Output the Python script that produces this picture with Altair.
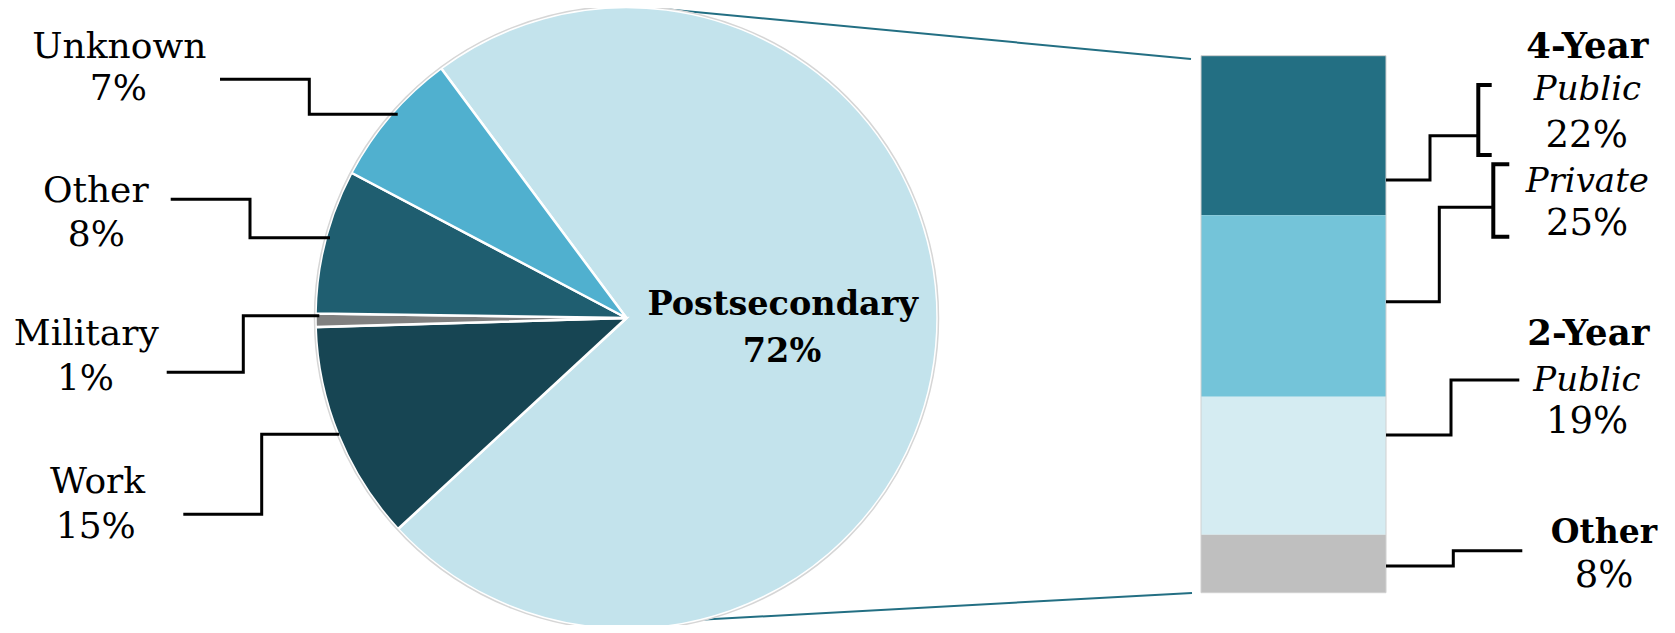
import math
import altair as alt
import pandas as pd

# ---------------- data ----------------
pie_categories = ["Postsecondary", "Work", "Military", "Other", "Unknown"]
pie_shares = [73.3, 11.4, 0.7, 7.5, 7.1]          # slice sizes as drawn
pie_label_names = ["Postsecondary", "Work", "Military", "Other", "Unknown"]
pie_label_pcts = ["72%", "15%", "1%", "8%", "7%"]  # percentages printed

bar_categories = ["4-Year Public", "4-Year Private", "2-Year Public", "Other"]
bar_values = [22, 25, 19, 8]
bar_label_pcts = ["22%", "25%", "19%", "8%"]

# ---------------- styles ----------------
pie_colors = ["#C3E3EC", "#174553", "#808080", "#1F5E70", "#50B0CF"]
bar_colors = ["#236F83", "#74C4D9", "#D5ECF2", "#BFBFBF"]
FONT = "DejaVu Serif"
W, H = 1659, 617
OFF = 8  # page margin

def px(v):
    return v - OFF

# ---------------- layout (pixel positions in page coordinates) ----------------
CX, CY, R = px(626.5), px(318.0), 311
START = 2 * math.pi - math.radians(36.6)
BAR_X1, BAR_X2 = px(1201), px(1386)
BAR_TOP, BAR_BOTTOM = px(55.7), px(592.7)

# ---------------- pie ----------------
pie_df = pd.DataFrame({"cat": pie_categories, "share": pie_shares,
                       "k": list(range(len(pie_categories)))})
pie = alt.Chart(pie_df).mark_arc(radius=R, stroke="white", strokeWidth=2.5).encode(
    theta=alt.Theta("share:Q", stack=True,
                    scale=alt.Scale(range=[START, START + 2 * math.pi])),
    color=alt.Color("cat:N", scale=alt.Scale(domain=pie_categories, range=pie_colors),
                    legend=None),
    order=alt.Order("k:Q"),
    x=alt.value(CX), y=alt.value(CY),
)
rim = alt.Chart(pd.DataFrame({"a": [0]})).mark_arc(
    radius=R + 1, theta=0, theta2=2 * math.pi + 0.01, filled=False,
    stroke="#D6D6D6", strokeWidth=1.5,
).encode(x=alt.value(CX), y=alt.value(CY))

# ---------------- stacked bar ----------------
bar_df = pd.DataFrame({"seg": bar_categories, "value": bar_values,
                       "k": [3, 2, 1, 0]})
bar_scale = alt.Scale(domain=[0, sum(bar_values)], range=[BAR_BOTTOM, BAR_TOP])
bar = alt.Chart(bar_df).transform_stack(
    stack="value", as_=["y0", "y1"], groupby=[], sort=[alt.SortField("k", order="ascending")]
).mark_rect().encode(
    x=alt.value(BAR_X1), x2=alt.value(BAR_X2),
    y=alt.Y("y0:Q", axis=None, scale=bar_scale),
    y2="y1:Q",
    color=alt.Color("seg:N", scale=alt.Scale(domain=bar_categories, range=bar_colors),
                    legend=None),
)
bar_outline = alt.Chart(bar_df).transform_aggregate(
    total="sum(value)"
).transform_calculate(zero="0").mark_rect(
    filled=False, stroke="#D0D0D0", strokeWidth=1
).encode(
    x=alt.value(BAR_X1), x2=alt.value(BAR_X2),
    y=alt.Y("zero:Q", axis=None, scale=bar_scale),
    y2="total:Q",
)

# ---------------- lines ----------------
def paths_df(paths):
    rows = []
    for pid, pts in enumerate(paths):
        for k, (x, y) in enumerate(pts):
            rows.append({"id": pid, "k": k, "x": px(x), "y": px(y)})
    return pd.DataFrame(rows)

def line_layer(paths, color, width):
    return alt.Chart(paths_df(paths)).mark_line(
        color=color, strokeWidth=width, strokeJoin="miter", strokeCap="butt"
    ).encode(
        x=alt.X("x:Q", scale=None, axis=None),
        y=alt.Y("y:Q", scale=None, axis=None),
        detail="id:N", order="k:Q",
    )

connectors = line_layer([
    [(632, 6), (1191, 59)],
    [(632, 623.5), (1192, 593)],
], "#236F83", 2)

leaders = line_layer([
    [(220, 79.3), (309.3, 79.3), (309.3, 114.3), (397.7, 114.3)],
    [(170.7, 199.3), (250, 199.3), (250, 237.7), (330, 237.7)],
    [(166.7, 372.3), (243.3, 372.3), (243.3, 315.7), (319.3, 315.7)],
    [(183.3, 514.3), (261.7, 514.3), (261.7, 434.3), (339.3, 434.3)],
    [(1386, 180), (1430, 180), (1430, 135.7), (1478, 135.7)],
    [(1386, 301.7), (1439.3, 301.7), (1439.3, 207.3), (1493, 207.3)],
    [(1386, 435), (1451, 435), (1451, 380), (1519.3, 380)],
    [(1386, 566), (1453.3, 566), (1453.3, 550.7), (1522.3, 550.7)],
], "black", 3)

brackets = line_layer([
    [(1491.7, 85), (1478.3, 85), (1478.3, 155), (1491.7, 155)],
    [(1509.3, 164.3), (1493.3, 164.3), (1493.3, 236.7), (1509.3, 236.7)],
], "black", 4)

# ---------------- texts ----------------
def text_layer(items, size, weight="normal", style="normal"):
    df = pd.DataFrame([{"text": t, "x": px(x), "y": px(y)} for t, x, y in items])
    return alt.Chart(df).mark_text(
        font=FONT, fontSize=size, fontWeight=weight, fontStyle=style,
        align="center", baseline="alphabetic", color="black",
    ).encode(
        x=alt.X("x:Q", scale=None, axis=None),
        y=alt.Y("y:Q", scale=None, axis=None),
        text="text:N",
    )

left_regular = text_layer([
    (pie_label_names[4], 119.3, 58.3), (pie_label_pcts[4], 118.3, 100),
    (pie_label_names[3], 95.8, 201.7), (pie_label_pcts[3], 96.3, 246),
    (pie_label_names[2], 86.3, 345), (pie_label_pcts[2], 85.5, 390),
    (pie_label_names[1], 97.5, 493.3), (pie_label_pcts[1], 95.8, 538.3),
], 36)

center_bold = text_layer([
    (pie_label_names[0], 782.7, 315), (pie_label_pcts[0], 782, 361.7),
], 33.5, weight="bold")

right_year = text_layer([
    ("4-Year", 1587.3, 58), ("2-Year", 1588.3, 345),
], 35.5, weight="bold")

right_other = text_layer([
    ("Other", 1604, 542.7),
], 33, weight="bold")

right_italic = text_layer([
    ("Public", 1587.5, 100), ("Private", 1587.3, 191.7), ("Public", 1587, 390.7),
], 34, style="italic")

right_regular = text_layer([
    (bar_label_pcts[0], 1586.7, 146.7), (bar_label_pcts[1], 1587, 235),
    (bar_label_pcts[2], 1587, 433.3), (bar_label_pcts[3], 1604, 586.7),
], 37)

chart = alt.layer(
    connectors, pie, rim, bar, bar_outline, leaders, brackets,
    left_regular, center_bold, right_year, right_other, right_italic, right_regular,
).resolve_scale(
    x="independent", y="independent", color="independent", theta="independent"
).properties(
    width=W, height=H, padding=0, autosize=alt.AutoSizeParams(type="none"),
).configure_view(stroke=None)

chart.save("out.html", embed_options={"renderer": "svg", "actions": False})
